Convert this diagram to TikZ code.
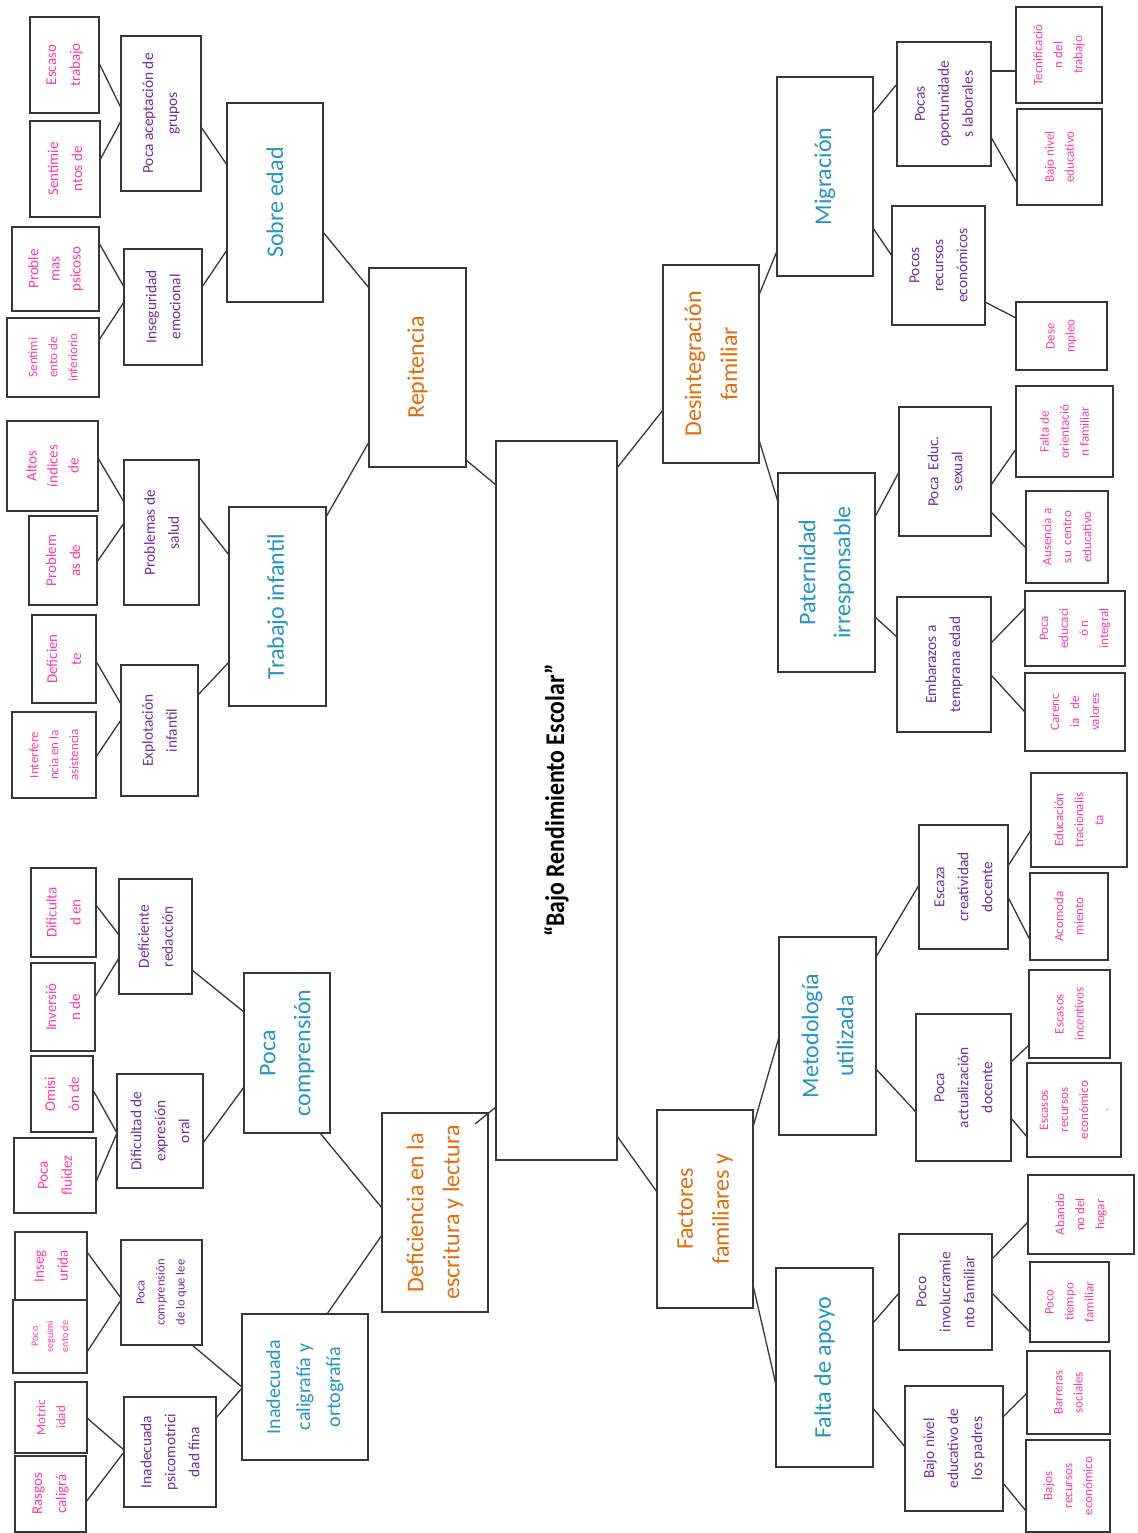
\documentclass[tikz,border=0pt]{standalone}
\usepackage{fontspec}
\setmainfont{Carlito}
\newfontfamily\condf[FakeStretch=0.88]{Carlito}
\usetikzlibrary{calc}
\definecolor{orangeT}{RGB}{228,108,10}
\definecolor{blueT}{RGB}{35,150,195}
\definecolor{purpT}{RGB}{112,48,160}
\definecolor{pinkT}{RGB}{255,60,158}
\definecolor{lineC}{RGB}{55,55,55}
\tikzset{
  boxst/.style={draw=lineC, line width=1pt, fill=white, inner sep=0pt, outer sep=0pt},
  conn/.style={draw=lineC, line width=0.65pt},
  lvA/.style={text=orangeT, align=center, inner sep=0pt, font=\fontsize{12}{18}\selectfont},
  lvB/.style={text=blueT, align=center, inner sep=0pt, font=\fontsize{12}{17.5}\selectfont},
  lvBs/.style={text=blueT, align=center, inner sep=0pt, font=\fontsize{10}{15}\selectfont},
  puA/.style={text=purpT, align=center, inner sep=0pt, font=\fontsize{7.7}{12}\selectfont},
  puS/.style={text=purpT, align=center, inner sep=0pt, font=\fontsize{6.3}{10}\selectfont},
  pkL/.style={text=pinkT, align=center, inner sep=0pt, font=\fontsize{7.5}{12}\selectfont},
  pkM/.style={text=pinkT, align=center, inner sep=0pt, font=\fontsize{7.5}{10.5}\selectfont},
  pkS/.style={text=pinkT, align=center, inner sep=0pt, font=\fontsize{6.5}{10}\selectfont},
  pkT/.style={text=pinkT, align=center, inner sep=0pt, font=\fontsize{5}{7.5}\selectfont},
  ctr/.style={text=black, align=center, inner sep=0pt, font=\condf\bfseries\fontsize{13.5}{15}\selectfont}
}
% name, x1, y1, x2, y2, text style, text
\newcommand\mybox[7]{%
  \node[boxst, minimum width={(#4-#2)*0.5pt}, minimum height={(#5-#3)*0.5pt}] (#1) at ({(#2+#4)/2},{(#3+#5)/2}) {};
  \node[#6, rotate=90] (#1t) at (#1.center) {#7};}
% from node (east) at y, to node (west) at y
\newcommand\myconn[4]{%
  \path (0,#2) coordinate (ya) (0,#4) coordinate (yb);
  \draw[conn] (#1.east |- ya) -- (#3.west |- yb);}
\begin{document}
\begin{tikzpicture}[x=0.5pt,y=-0.5pt]
\fill[white] (0,0) rectangle (1138,1533);
\useasboundingbox (0,0) rectangle (1138,1533);

% ---------------- centre ----------------
\mybox{c}{496}{441}{617}{1160}{ctr}{“Bajo Rendimiento Escolar”}

% ---------------- left upper: Repitencia ----------------
\mybox{r1}{369}{268}{466}{467}{lvA}{Repitencia}
\mybox{s1}{227}{103}{323}{302}{lvB}{Sobre edad}
\mybox{t1}{229}{507}{326}{706}{lvB}{Trabajo infantil}
\mybox{p1}{121}{36}{201}{191}{puA}{Poca aceptación de\\grupos}
\mybox{i1}{124}{249}{202}{365}{puA}{Inseguridad\\emocional}
\mybox{p2}{124}{460}{199}{605}{puA}{Problemas de\\salud}
\mybox{p3}{121}{665}{198}{796}{puA}{Explotación\\infantil}
\mybox{e1}{30}{17}{99}{113}{pkL}{Escaso\\trabajo}
\mybox{e2}{30}{121}{100}{217}{pkL}{Sentimie\\ntos de}
\mybox{e3}{12}{227}{99}{311}{pkM}{Proble\\mas\\psicoso}
\mybox{e4}{7}{318}{99}{397}{pkS}{Sentimi\\ento de\\inferiorio}
\mybox{e5}{7}{421}{98}{511}{pkM}{Altos\\índices\\de}
\mybox{e6}{29}{516}{97}{605}{pkL}{Problem\\as de}
\mybox{e7}{32}{615}{96}{703}{pkL}{Deficien\\te}
\mybox{e8}{12}{712}{96}{798}{pkS}{Interfere\\ncia en la\\asistencia}

% ---------------- left lower: Deficiencia ----------------
\mybox{o2}{382}{1113}{488}{1312}{lvA}{Deficiencia en la\\escritura y lectura}
\mybox{b1}{244}{973}{330}{1133}{lvB}{Poca\\comprensión}
\mybox{b2}{242}{1314}{368}{1460}{lvBs}{Inadecuada\\caligrafía y\\ortografía}
\mybox{p4}{119}{879}{192}{994}{puA}{Deficiente\\redacción}
\mybox{p5}{117}{1074}{203}{1188}{puA}{Dificultad de\\expresión\\oral}
\mybox{p6}{121}{1240}{202}{1345}{puS}{Poca\\comprensión\\de lo que lee}
\mybox{p7}{124}{1397}{216}{1507}{puA}{Inadecuada\\psicomotrici\\dad fina}
\mybox{e9}{31}{868}{96}{957}{pkL}{Dificulta\\d en}
\mybox{e10}{31}{963}{95}{1051}{pkL}{Inversió\\n de}
\mybox{e11}{31}{1056}{93}{1132}{pkL}{Omisi\\ón de}
\mybox{e12}{14}{1138}{96}{1213}{pkL}{Poca\\fluidez}
\mybox{e13}{15}{1232}{87}{1300}{pkL}{Inseg\\urida}
\mybox{e14}{13}{1300}{87}{1373}{pkT}{Poco\\seguimi\\ento de}
\mybox{e15}{15}{1382}{87}{1453}{pkS}{Motric\\idad}
\mybox{e16}{15}{1456}{86}{1532}{pkL}{Rasgos\\caligrá}

% ---------------- right upper: Desintegración ----------------
\mybox{o3}{663}{265}{759}{463}{lvA}{Desintegración\\familiar}
\mybox{b3}{777}{77}{873}{276}{lvB}{Migración}
\mybox{b4}{778}{473}{875}{672}{lvB}{Paternidad\\irresponsable}
\mybox{p8}{897}{42}{991}{166}{puA}{Pocas\\oportunidade\\s laborales}
\mybox{p9}{892}{206}{985}{325}{puA}{Pocos\\recursos\\económicos}
\mybox{p10}{899}{407}{991}{536}{puA}{Poca\ \ Educ.\\sexual}
\mybox{p11}{897}{597}{991}{732}{puA}{Embarazos a\\temprana edad}
\mybox{e17}{1016}{7}{1102}{103}{pkS}{Tecnificació\\n del\\trabajo}
\mybox{e18}{1017}{109}{1102}{205}{pkS}{Bajo nivel\\educativo}
\mybox{e19}{1016}{302}{1107}{370}{pkS}{Dese\\mpleo}
\mybox{e20}{1016}{386}{1113}{477}{pkS}{Falta de\\orientació\\n familiar}
\mybox{e21}{1026}{491}{1108}{583}{pkS}{Ausencia a\\su\ \ centro\\educativo}
\mybox{e22}{1025}{591}{1125}{666}{pkS}{Poca\\educaci\\ó n\\integral}
\mybox{e23}{1025}{673}{1125}{751}{pkS}{Carenc\\ia\ \ \ de\\valores}

% ---------------- right lower: Factores ----------------
\mybox{o4}{657}{1110}{753}{1308}{lvA}{Factores\\familiares y}
\mybox{b5}{779}{937}{876}{1135}{lvB}{Metodología\\utilizada}
\mybox{b6}{776}{1268}{873}{1467}{lvB}{Falta de apoyo}
\mybox{p12}{919}{825}{1008}{949}{puA}{Escaza\\creatividad\\docente}
\mybox{p13}{916}{1014}{1011}{1161}{puA}{Poca\\actualización\\docente}
\mybox{p14}{899}{1234}{992}{1350}{puA}{Poco\\involucramie\\nto familiar}
\mybox{p15}{905}{1386}{1003}{1511}{puA}{Bajo nivel\\educativo de\\los padres}
\mybox{e24}{1031}{773}{1127}{867}{pkS}{Educación\\tracionalis\\ta}
\mybox{e25}{1030}{873}{1108}{960}{pkS}{Acomoda\\miento}
\mybox{e26}{1029}{970}{1110}{1058}{pkS}{Escasos\\incentivos}
\mybox{e27}{1027}{1063}{1121}{1157}{pkS}{Escasos\\recursos\\económico\\.}
\mybox{e28}{1028}{1175}{1134}{1254}{pkS}{Abando\\no del\\hogar}
\mybox{e29}{1030}{1262}{1109}{1342}{pkS}{Poco\\tiempo\\familiar}
\mybox{e30}{1027}{1351}{1110}{1434}{pkS}{Barreras\\sociales}
\mybox{e31}{1026}{1440}{1110}{1532}{pkS}{Bajos\\recursos\\económico}

% ---------------- connectors: left ----------------
\myconn{e1}{63}{p1}{108}
\myconn{e2}{160}{p1}{121}
\myconn{p1}{127}{s1}{165}
\myconn{e3}{243}{i1}{287}
\myconn{e4}{340}{i1}{302}
\myconn{i1}{287}{s1}{250}
\myconn{s1}{232}{r1}{288}
\myconn{r1}{460}{c}{485}
\myconn{e5}{458}{p2}{502}
\myconn{e6}{562}{p2}{523}
\myconn{p2}{517}{t1}{555}
\myconn{e7}{661}{p3}{704}
\myconn{e8}{757}{p3}{720}
\myconn{p3}{695}{t1}{662}
\myconn{t1}{517}{r1}{442}
\myconn{e9}{905}{p4}{935}
\myconn{e10}{997}{p4}{958}
\myconn{p4}{970}{b1}{1012}
\myconn{e11}{1090}{p5}{1133}
\myconn{e12}{1182}{p5}{1133}
\myconn{p5}{1143}{b1}{1087}
\myconn{e13}{1252}{p6}{1298}
\myconn{e14}{1352}{p6}{1300}
\myconn{e15}{1418}{p7}{1450}
\myconn{e16}{1502}{p7}{1452}
\myconn{p7}{1418}{b2}{1388}
\path (320,0) coordinate (xa) (0,1208) coordinate (yb);
\draw[conn] (b1.south -| xa) -- (o2.west |- yb);
\path (327,0) coordinate (xa) (0,1235) coordinate (yb);
\draw[conn] (b2.north -| xa) -- (o2.west |- yb);
\path (192,0) coordinate (xa) (0,1387) coordinate (yb);
\draw[conn] (p6.south -| xa) -- (b2.west |- yb);
\path (0,1107) coordinate (yb);
\draw[conn] ($(o2.north east)+(-13,11)$) -- (c.west |- yb);

% ---------------- connectors: right ----------------
\myconn{c}{468}{o3}{410}
\myconn{o3}{295}{b3}{251}
\myconn{b3}{113}{p8}{84}
\myconn{p8}{71}{e17}{71}
\myconn{p8}{137}{e18}{183}
\myconn{b3}{228}{p9}{256}
\myconn{p9}{302}{e19}{318}
\myconn{o3}{440}{b4}{502}
\myconn{b4}{517}{p10}{472}
\myconn{p10}{485}{e20}{449}
\myconn{p10}{512}{e21}{548}
\myconn{b4}{617}{p11}{637}
\myconn{p11}{643}{e22}{608}
\myconn{p11}{675}{e23}{712}
\myconn{c}{1136}{o4}{1192}
\myconn{o4}{1127}{b5}{1037}
\myconn{b5}{957}{p12}{885}
\myconn{p12}{866}{e24}{830}
\myconn{p12}{897}{e25}{940}
\myconn{b5}{1069}{p13}{1112}
\myconn{p13}{1062}{e26}{1045}
\myconn{p13}{1118}{e27}{1137}
\myconn{o4}{1285}{b6}{1385}
\myconn{b6}{1323}{p14}{1293}
\myconn{p14}{1259}{e28}{1222}
\myconn{p14}{1293}{e29}{1332}
\myconn{b6}{1408}{p15}{1447}
\myconn{p15}{1417}{e30}{1393}
\myconn{p15}{1483}{e31}{1511}
\end{tikzpicture}
\end{document}
